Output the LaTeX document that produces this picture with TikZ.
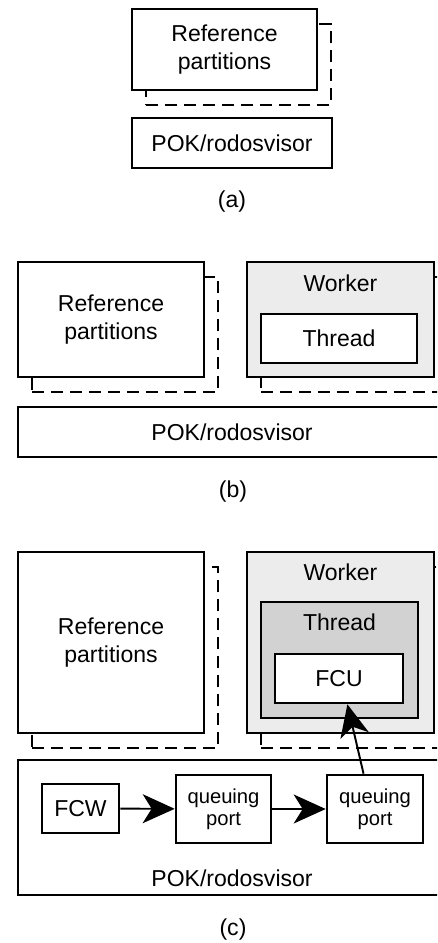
\documentclass[tikz,border=0pt]{standalone}
\usepackage{fontspec}
\setmainfont{Liberation Sans}
\usetikzlibrary{arrows.meta}

\begin{document}
\begin{tikzpicture}[
    font=\fontsize{13.1}{15.5}\selectfont,
    box/.style={draw, line width=1.5pt, fill=white, align=center, inner sep=0pt},
    ghost/.style={draw, line width=1.5pt, dash pattern=on 6.8pt off 4pt, inner sep=0pt},
    flow/.style={-{Stealth[length=6.4mm, width=5.8mm, inset=1.8mm]}, line width=1.1pt},
    small/.style={font=\fontsize{11.5}{12.7}\selectfont}
  ]
  \path[use as bounding box, clip] (0,0) rectangle (8.74,-18.86);

  % (a)
  \node[ghost, minimum width=3.70cm, minimum height=1.62cm] (refAs) at (4.77,-1.29) {};
  \node[box, minimum width=3.70cm, minimum height=1.62cm] (refA) at (4.49,-0.99) {Reference\\partitions};
  \node[box, minimum width=4.00cm, minimum height=1.00cm] (pokA) at (4.64,-2.86) {POK/rodosvisor};
  \node (lblA) at (4.64,-4.04) {(a)};

  % (b)
  \node[ghost, minimum width=3.72cm, minimum height=2.30cm] (refBs) at (2.50,-6.69) {};
  \node[box, minimum width=3.72cm, minimum height=2.30cm] (refB) at (2.22,-6.39) {Reference\\partitions};
  \node[ghost, minimum width=3.74cm, minimum height=2.30cm] (workerBs) at (7.09,-6.69) {};
  \node[box, fill=gray!15, minimum width=3.74cm, minimum height=2.30cm] (workerB) at (6.81,-6.39) {};
  \node (workerBlbl) at (6.81,-5.66) {Worker};
  \node[box, minimum width=3.12cm, minimum height=0.98cm] (threadB) at (6.78,-6.77) {Thread};
  \node[box, minimum width=8.56cm, minimum height=1.00cm] (pokB) at (4.64,-8.64) {POK/rodosvisor};
  \node (lblB) at (4.66,-9.84) {(b)};

  % (c)
  \node[ghost, minimum width=3.72cm, minimum height=3.62cm] (refCs) at (2.50,-13.15) {};
  \node[box, minimum width=3.72cm, minimum height=3.62cm] (refC) at (2.22,-12.85) {Reference\\partitions};
  \node[ghost, minimum width=3.74cm, minimum height=3.62cm] (workerCs) at (7.09,-13.15) {};
  \node[box, fill=gray!15, minimum width=3.74cm, minimum height=3.62cm] (workerC) at (6.81,-12.85) {};
  \node (workerClbl) at (6.81,-11.44) {Worker};
  \node[box, fill=gray!35, minimum width=3.14cm, minimum height=2.32cm] (threadC) at (6.79,-13.20) {};
  \node (threadClbl) at (6.79,-12.44) {Thread};
  \node[box, minimum width=2.56cm, minimum height=0.98cm] (fcu) at (6.78,-13.57) {FCU};

  \node[box, minimum width=8.56cm, minimum height=2.70cm] (pokC) at (4.64,-16.55) {};
  \node (pokClbl) at (4.64,-17.56) {POK/rodosvisor};
  \node[box, minimum width=1.54cm, minimum height=0.98cm] (fcw) at (1.61,-16.17) {FCW};
  \node[box, small, minimum width=1.90cm, minimum height=1.36cm] (qpA) at (4.47,-16.18) {queuing\\port};
  \node[box, small, minimum width=1.92cm, minimum height=1.36cm] (qpB) at (7.50,-16.18) {queuing\\port};
  \node (lblC) at (4.66,-18.60) {(c)};

  \draw[flow] (fcw) -- (qpA);
  \draw[flow] (qpA) -- (qpB);
  \draw[flow] (qpB.108) -- (fcu.-72);
\end{tikzpicture}
\end{document}
